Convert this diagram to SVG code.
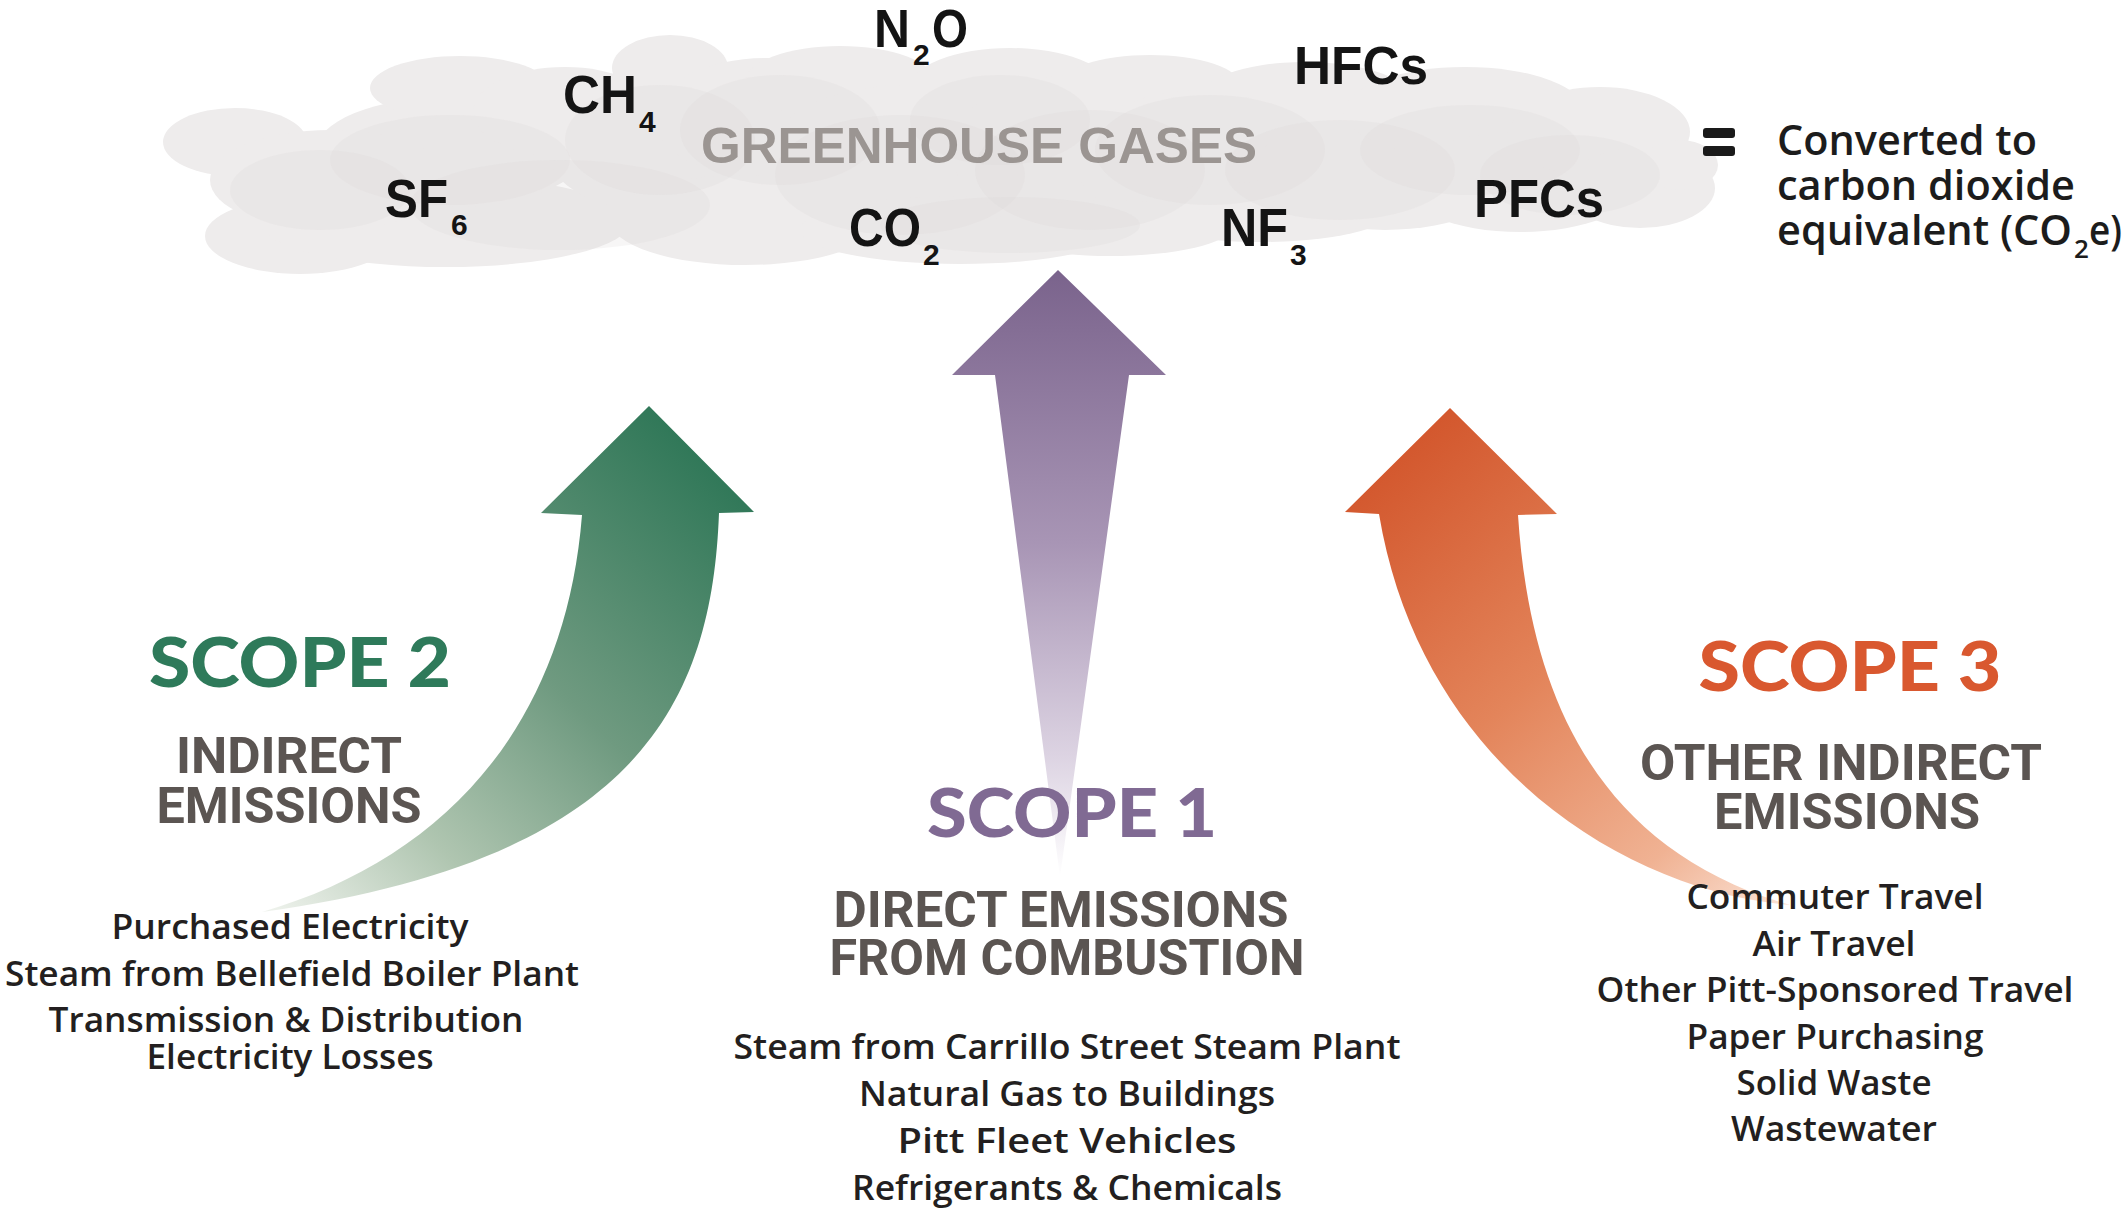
<svg xmlns="http://www.w3.org/2000/svg" width="2125" height="1211" viewBox="0 0 2125 1211">
<defs>
<style>
.gas{font-family:"Liberation Sans",Arial,sans-serif;font-weight:700;font-size:54px;fill:#141414}
.sub{font-family:"Liberation Sans",Arial,sans-serif;font-weight:700;font-size:30px;fill:#141414}
.ghg{font-family:"Liberation Sans",Arial,sans-serif;font-weight:700;font-size:50px;fill:#9b9592}
.scope{font-family:Lato,"Liberation Sans",sans-serif;font-weight:900;font-size:68px;text-anchor:middle}
.head{font-family:Roboto,"Liberation Sans",sans-serif;font-weight:700;font-size:50px;fill:#5b5552;text-anchor:middle}
.item{font-family:"Open Sans","Liberation Sans",sans-serif;font-weight:600;font-size:34px;fill:#231f20;text-anchor:middle}
.conv{font-family:"Open Sans","Liberation Sans",sans-serif;font-weight:600;font-size:42px;fill:#1c1c1c}
.convsub{font-family:"Open Sans","Liberation Sans",sans-serif;font-weight:600;font-size:26px;fill:#1c1c1c}
.base ellipse{fill:#eeecec}
.tex ellipse{fill:#dcd8d8;fill-opacity:0.22}
</style>
<linearGradient id="gPurple" gradientUnits="userSpaceOnUse" x1="0" y1="270" x2="0" y2="877">
<stop offset="0" stop-color="#7a638c"/>
<stop offset="0.45" stop-color="#a895b5"/>
<stop offset="0.8" stop-color="#dcd3e2"/>
<stop offset="1" stop-color="#ffffff"/>
</linearGradient>
<linearGradient id="gGreen" gradientUnits="userSpaceOnUse" x1="720" y1="440" x2="270" y2="910">
<stop offset="0" stop-color="#2b7555"/>
<stop offset="0.45" stop-color="#6f9a80"/>
<stop offset="0.75" stop-color="#afc5b0"/>
<stop offset="1" stop-color="#eef2ec"/>
</linearGradient>
<linearGradient id="gOrange" gradientUnits="userSpaceOnUse" x1="1390" y1="440" x2="1790" y2="905">
<stop offset="0" stop-color="#d2552b"/>
<stop offset="0.45" stop-color="#e3845a"/>
<stop offset="0.8" stop-color="#f0b293"/>
<stop offset="1" stop-color="#fbe3d6"/>
</linearGradient>
</defs>
<rect width="2125" height="1211" fill="#ffffff"/>

<g id="cloud">
<g class="base">
<ellipse cx="235" cy="142" rx="72" ry="34"/>
<ellipse cx="300" cy="236" rx="95" ry="38"/>
<ellipse cx="445" cy="222" rx="185" ry="45"/>
<ellipse cx="450" cy="152" rx="135" ry="55"/>
<ellipse cx="460" cy="88" rx="90" ry="32"/>
<ellipse cx="565" cy="112" rx="92" ry="45"/>
<ellipse cx="670" cy="68" rx="58" ry="33"/>
<ellipse cx="660" cy="152" rx="112" ry="60"/>
<ellipse cx="765" cy="118" rx="110" ry="60"/>
<ellipse cx="745" cy="220" rx="135" ry="45"/>
<ellipse cx="840" cy="82" rx="95" ry="36"/>
<ellipse cx="905" cy="160" rx="140" ry="75"/>
<ellipse cx="960" cy="230" rx="160" ry="34"/>
<ellipse cx="1010" cy="88" rx="100" ry="40"/>
<ellipse cx="1080" cy="150" rx="130" ry="75"/>
<ellipse cx="1150" cy="85" rx="90" ry="30"/>
<ellipse cx="1205" cy="160" rx="130" ry="70"/>
<ellipse cx="1260" cy="212" rx="130" ry="30"/>
<ellipse cx="1110" cy="228" rx="120" ry="28"/>
<ellipse cx="1305" cy="102" rx="110" ry="40"/>
<ellipse cx="1385" cy="170" rx="130" ry="60"/>
<ellipse cx="1465" cy="112" rx="120" ry="45"/>
<ellipse cx="1520" cy="182" rx="120" ry="50"/>
<ellipse cx="1600" cy="132" rx="90" ry="45"/>
<ellipse cx="1640" cy="188" rx="75" ry="40"/>
<ellipse cx="1680" cy="165" rx="38" ry="25"/>
<ellipse cx="330" cy="180" rx="120" ry="50"/>
</g>
<g class="tex">
<ellipse cx="450" cy="160" rx="120" ry="45"/>
<ellipse cx="560" cy="205" rx="150" ry="45"/>
<ellipse cx="660" cy="140" rx="95" ry="55"/>
<ellipse cx="780" cy="130" rx="100" ry="55"/>
<ellipse cx="900" cy="175" rx="125" ry="60"/>
<ellipse cx="1000" cy="120" rx="90" ry="45"/>
<ellipse cx="1090" cy="170" rx="115" ry="60"/>
<ellipse cx="1210" cy="150" rx="115" ry="55"/>
<ellipse cx="1340" cy="170" rx="115" ry="50"/>
<ellipse cx="1470" cy="150" rx="110" ry="45"/>
<ellipse cx="1570" cy="175" rx="90" ry="40"/>
<ellipse cx="320" cy="190" rx="90" ry="40"/>
<ellipse cx="1010" cy="225" rx="130" ry="28"/>
</g>
</g>

<g id="connectors">
<path id="arrow-scope1" d="M1058,270 L1166,375 L1129,375 L1060,877 L995,375 L952,375 Z" fill="url(#gPurple)"/>
<path id="arrow-scope2" d="M649,406 L754,512 L719,513 C712,700 640,860 262,912 C440,860 565,730 582,515 L541,513 Z" fill="url(#gGreen)"/>
<path id="arrow-scope3" d="M1450,408 L1557,514 L1518,515 C1530,700 1600,850 1790,905 C1620,890 1420,760 1379,514 L1345,512 Z" fill="url(#gOrange)"/>
</g>

<g id="gases">
<text class="ghg" x="701" y="163" textLength="556" lengthAdjust="spacingAndGlyphs">GREENHOUSE GASES</text>
<g id="gas-n2o"><text class="gas" x="874" y="47" textLength="36" lengthAdjust="spacingAndGlyphs">N</text><text class="sub" x="913" y="65">2</text><text class="gas" x="932" y="47" textLength="36" lengthAdjust="spacingAndGlyphs">O</text></g>
<g id="gas-ch4"><text class="gas" x="563" y="113" textLength="74" lengthAdjust="spacingAndGlyphs">CH</text><text class="sub" x="639" y="132">4</text></g>
<g id="gas-hfcs"><text class="gas" x="1294" y="84" textLength="134" lengthAdjust="spacingAndGlyphs">HFCs</text></g>
<g id="gas-sf6"><text class="gas" x="385" y="217" textLength="63" lengthAdjust="spacingAndGlyphs">SF</text><text class="sub" x="451" y="235">6</text></g>
<g id="gas-co2"><text class="gas" x="849" y="246" textLength="72" lengthAdjust="spacingAndGlyphs">CO</text><text class="sub" x="923" y="265">2</text></g>
<g id="gas-nf3"><text class="gas" x="1221" y="246" textLength="67" lengthAdjust="spacingAndGlyphs">NF</text><text class="sub" x="1290" y="265">3</text></g>
<g id="gas-pfcs"><text class="gas" x="1474" y="217" textLength="130" lengthAdjust="spacingAndGlyphs">PFCs</text></g>
</g>

<g id="equals">
<rect x="1703" y="128" width="32" height="10" rx="3" fill="#1a1a1a"/>
<rect x="1703" y="146" width="32" height="10" rx="3" fill="#1a1a1a"/>
</g>

<g id="co2e">
<text class="conv" x="1777" y="155" textLength="260" lengthAdjust="spacingAndGlyphs">Converted to</text>
<text class="conv" x="1777" y="200" textLength="298" lengthAdjust="spacingAndGlyphs">carbon dioxide</text>
<text class="conv" x="1777" y="245" textLength="295" lengthAdjust="spacingAndGlyphs">equivalent (CO</text>
<text class="convsub" x="2074" y="258">2</text>
<text class="conv" x="2089" y="245" textLength="33" lengthAdjust="spacingAndGlyphs">e)</text>
</g>

<g id="scope2">
<text class="scope" x="300" y="687" fill="#2e7a5a" textLength="302" lengthAdjust="spacingAndGlyphs">SCOPE 2</text>
<text class="head" x="289" y="773" textLength="226" lengthAdjust="spacingAndGlyphs">INDIRECT</text>
<text class="head" x="289" y="823" textLength="265" lengthAdjust="spacingAndGlyphs">EMISSIONS</text>
<text class="item" x="290" y="939" textLength="357" lengthAdjust="spacingAndGlyphs">Purchased Electricity</text>
<text class="item" x="292" y="986" textLength="574" lengthAdjust="spacingAndGlyphs">Steam from Bellefield Boiler Plant</text>
<text class="item" x="286" y="1032" textLength="475" lengthAdjust="spacingAndGlyphs">Transmission &amp; Distribution</text>
<text class="item" x="290" y="1069" textLength="287" lengthAdjust="spacingAndGlyphs">Electricity Losses</text>
</g>

<g id="scope1">
<text class="scope" x="1072" y="837" fill="#806a93" style="font-size:66px" textLength="290" lengthAdjust="spacingAndGlyphs">SCOPE 1</text>
<text class="head" x="1061" y="927" textLength="455" lengthAdjust="spacingAndGlyphs">DIRECT EMISSIONS</text>
<text class="head" x="1067" y="975" textLength="475" lengthAdjust="spacingAndGlyphs">FROM COMBUSTION</text>
<text class="item" x="1067" y="1059" textLength="667" lengthAdjust="spacingAndGlyphs">Steam from Carrillo Street Steam Plant</text>
<text class="item" x="1067" y="1106" textLength="416" lengthAdjust="spacingAndGlyphs">Natural Gas to Buildings</text>
<text class="item" x="1067" y="1153" textLength="339" lengthAdjust="spacingAndGlyphs">Pitt Fleet Vehicles</text>
<text class="item" x="1067" y="1200" textLength="430" lengthAdjust="spacingAndGlyphs">Refrigerants &amp; Chemicals</text>
</g>

<g id="scope3">
<text class="scope" x="1850" y="691" fill="#d9582f" textLength="303" lengthAdjust="spacingAndGlyphs">SCOPE 3</text>
<text class="head" x="1841" y="780" textLength="402" lengthAdjust="spacingAndGlyphs">OTHER INDIRECT</text>
<text class="head" x="1847" y="829" textLength="266" lengthAdjust="spacingAndGlyphs">EMISSIONS</text>
<text class="item" x="1835" y="909" textLength="297" lengthAdjust="spacingAndGlyphs">Commuter Travel</text>
<text class="item" x="1834" y="956" textLength="163" lengthAdjust="spacingAndGlyphs">Air Travel</text>
<text class="item" x="1835" y="1002" textLength="477" lengthAdjust="spacingAndGlyphs">Other Pitt-Sponsored Travel</text>
<text class="item" x="1835" y="1049" textLength="297" lengthAdjust="spacingAndGlyphs">Paper Purchasing</text>
<text class="item" x="1834" y="1095" textLength="195" lengthAdjust="spacingAndGlyphs">Solid Waste</text>
<text class="item" x="1834" y="1141" textLength="206" lengthAdjust="spacingAndGlyphs">Wastewater</text>
</g>
</svg>
